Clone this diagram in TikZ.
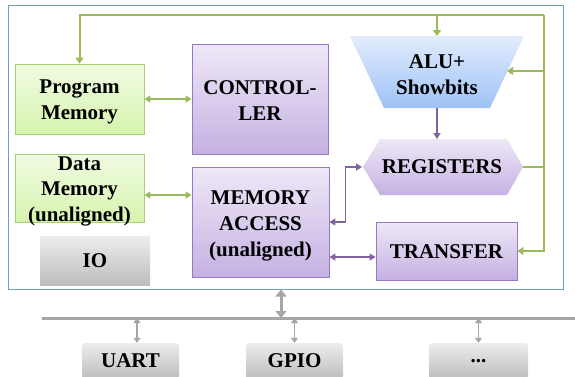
\documentclass[tikz,border=0pt]{standalone}
\usepackage{fontspec}
\setmainfont{Liberation Serif}
\usetikzlibrary{arrows.meta,calc}
\definecolor{grnT}{HTML}{F0FBE2}
\definecolor{grnB}{HTML}{D6F3AE}
\definecolor{grnD}{HTML}{A9D074}
\definecolor{grnL}{HTML}{9BBB59}
\definecolor{purT}{HTML}{EEE8F7}
\definecolor{purB}{HTML}{C5B1E2}
\definecolor{purD}{HTML}{9878C2}
\definecolor{purL}{HTML}{8064A2}
\definecolor{gryT}{HTML}{EDEDED}
\definecolor{gryB}{HTML}{BDBDBD}
\definecolor{gryL}{HTML}{A6A6A6}
\definecolor{bluT}{HTML}{E2ECFC}
\definecolor{bluB}{HTML}{9EC2F6}
\definecolor{frm}{HTML}{6F9AD3}
\begin{document}
\begin{tikzpicture}[x=1pt,y=-1pt,
  every node/.style={font=\bfseries\fontsize{21}{26}\selectfont, align=center, inner sep=0pt},
  gbox/.style={draw=grnD, line width=0.9pt, top color=grnT, bottom color=grnB},
  pbox/.style={draw=purD, line width=0.9pt, top color=purT, bottom color=purB},
  graybox/.style={top color=gryT, bottom color=gryB},
  gline/.style={draw=grnL, line width=2pt, line join=miter},
  gtip/.style={-{Triangle[width=8pt,length=6pt]}},
  pline/.style={draw=purL, line width=1.8pt, line join=miter},
  ptips/.style={{Triangle[width=7pt,length=6pt]}-{Triangle[width=7pt,length=6pt]}},
  gtips/.style={{Triangle[width=7pt,length=6pt]}-{Triangle[width=7pt,length=6pt]}},
  busarrow/.style={draw=gryL, line width=1.5pt, {Triangle[width=7pt,length=5pt]}-{Triangle[width=7pt,length=5pt]}}
]
\useasboundingbox (0,0) rectangle (575,376);

% outer frame
\node[draw=frm, line width=1pt, minimum width=555pt, minimum height=284pt] (frame) at (285.5,147) {};

% boxes
\node[gbox, minimum width=129pt, minimum height=70pt] (pm) at (79.5,99) {};
\node (pmtext) at ([yshift=-3pt]pm.center) {Program\\Memory};
\node[gbox, minimum width=129pt, minimum height=68pt] (dm) at (79.5,188) {};
\node[font=\bfseries\fontsize{21}{25.5}\selectfont] (dmtext) at ([yshift=-3pt]dm.center) {Data\\Memory\\(unaligned)};
\node[graybox, minimum width=110pt, minimum height=49pt] (io) at (95,260.5) {IO};
\node[pbox, minimum width=136pt, minimum height=110pt] (ctrl) at (260,99) {};
\node (ctrltext) at ([yshift=-2pt]ctrl.center) {CONTROL-\\LER};
\node[pbox, minimum width=137pt, minimum height=110pt] (ma) at (260.5,222) {};
\node (matext) at ([yshift=-4pt]ma.center) {MEMORY\\ACCESS\\(unaligned)};
\node[pbox, minimum width=141pt, minimum height=58pt] (tr) at (446.5,251) {};
\node (trtext) at ([yshift=-1pt]tr.center) {TRANSFER};

% ALU trapezoid
\shade[top color=bluT, bottom color=bluB] (350,36) -- (524,36) -- (490,108) -- (384,108) -- cycle;
\node (alu) at (437,75) {ALU+\\Showbits};
\coordinate (alutop) at (437,36);
\coordinate (alubot) at (437,108);
\coordinate (aluright) at (507,71);

% Registers hexagon
\shade[top color=purT, bottom color=purB] (363,167) -- (380,139) -- (507,139) -- (523,167) -- (507,195) -- (380,195) -- cycle;
\node (reg) at (442,167) {REGISTERS};
\coordinate (regL) at (362,167);
\coordinate (regR) at (523,167);
\coordinate (regT) at (437,139);

% green connectors
\coordinate (gtr) at (544,15);
\draw[gline, gtip] (gtr) -- (pm.north |- gtr) -- (pm.north);
\draw[gline, gtip] (gtr) |- (tr.east);
\draw[gline, gtip] (alutop |- gtr) -- (alutop);
\draw[gline, gtip] (gtr |- aluright) -- (aluright);
\draw[gline] (regR) -- (gtr |- regR);
\draw[gline, gtips] (pm.east) -- (ctrl.west);
\coordinate (dmc) at (0,195);
\draw[gline, gtips] (dm.east |- dmc) -- (ma.west |- dmc);

% purple connectors
\draw[pline, -{Triangle[width=7pt,length=6pt]}] (alubot) -- (regT);
\draw[pline, ptips] (ma.east) -- ++(16,0) |- (regL);
\coordinate (tw) at ([yshift=-6pt]tr.west);
\draw[pline, ptips] (ma.east |- tw) -- (tw);

% bus
\coordinate (busL) at (42,318);
\coordinate (busR) at (575,318);
\draw[gryL, line width=3pt] (busL) -- (busR);
\coordinate (fb) at (281,0);
\draw[draw=gryL, line width=3pt, {Triangle[width=11pt,length=7pt]}-{Triangle[width=11pt,length=7pt]}] (frame.south -| fb) -- (fb |- busL);

\node[graybox, rounded corners=3pt, minimum width=97pt, minimum height=36pt] (uart) at (130.5,361) {UART};
\node[graybox, rounded corners=3pt, minimum width=97pt, minimum height=36pt] (gpio) at (294.5,361) {GPIO};
\node[graybox, rounded corners=3pt, minimum width=99pt, minimum height=36pt] (more) at (478.5,361) {...};
\coordinate (ua) at (137,0);
\draw[busarrow] (uart.north -| ua) -- (ua |- busL);
\draw[busarrow] (gpio.north) -- (gpio.north |- busL);
\draw[busarrow] (more.north) -- (more.north |- busL);
\end{tikzpicture}
\end{document}
